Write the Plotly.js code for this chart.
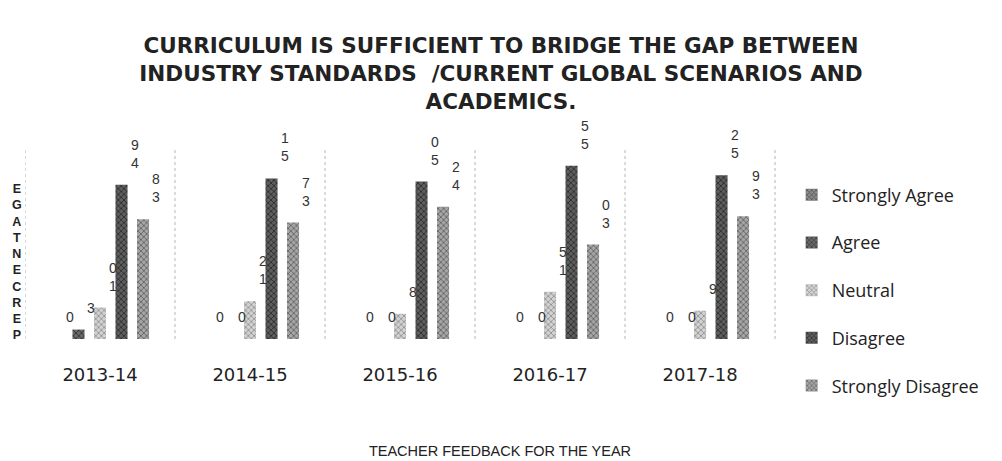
<!DOCTYPE html>
<html>
<head>
<meta charset="utf-8">
<script src="https://cdn.plot.ly/plotly-3.0.1.min.js"></script>
<style>html,body{margin:0;padding:0;background:#fff;}#chart{width:1002px;height:461px;}</style>
</head>
<body>
<div id="chart"></div>
<script>
// ---- data (percent of teachers) ----
const years = ['2013-14', '2014-15', '2015-16', '2016-17', '2017-18'];
const seriesNames = ['Strongly Agree', 'Agree', 'Neutral', 'Disagree', 'Strongly Disagree'];
const stronglyAgree = [0, 0, 0, 0, 0];
const agree = [3, 0, 0, 0, 0];
const neutral = [10, 12, 8, 15, 9];
const disagree = [49, 51, 50, 55, 52];
const stronglyDisagree = [38, 37, 42, 30, 39];
const yAxisLetters = 'PERCENTAGE';

const seriesValues = [stronglyAgree, agree, neutral, disagree, stronglyDisagree];
const fills = [
  {bg: '#8c8c8c', fg: '#4a4a4a'},
  {bg: '#6a6a6a', fg: '#2e2e2e'},
  {bg: '#d2d2d2', fg: '#8a8a8a'},
  {bg: '#5e5e5e', fg: '#262626'},
  {bg: '#a6a6a6', fg: '#5a5a5a'}
];
const xIdx = years.map((_, i) => i);
const bargap = 0.283;

const traces = seriesValues.map((vals, j) => ({
  type: 'bar',
  name: seriesNames[j],
  legendgroup: 'g' + j,
  x: xIdx,
  y: vals,
  marker: {
    color: fills[j].bg,
    line: {width: 0},
    pattern: {shape: 'x', fgcolor: fills[j].fg, bgcolor: fills[j].bg, size: 4, solidity: 0.35}
  },
  hoverinfo: 'x+y+name'
}));

// data labels: digits stacked vertically, read bottom-up
const slot = (1 - bargap) / seriesValues.length;
const annotations = [];
seriesValues.forEach((vals, j) => {
  vals.forEach((v, i) => {
    annotations.push({
      x: i + (j - 2) * slot, y: v, xref: 'x', yref: 'y',
      text: String(v).split('').reverse().join('<br>'),
      showarrow: false, xanchor: 'center', yanchor: 'bottom',
      xshift: 13, yshift: 12,
      font: {family: 'Liberation Sans, Arial, sans-serif', size: 14, color: '#333'}
    });
  });
});
// y-axis title drawn as stacked letters (reads bottom-up)
annotations.push({
  xref: 'paper', yref: 'y', x: -0.0084, y: 24.4,
  text: '<b>' + yAxisLetters.split('').reverse().join('<br>') + '</b>',
  showarrow: false, xanchor: 'center', yanchor: 'middle',
  font: {family: 'Liberation Sans, Arial, sans-serif', size: 12.5, color: '#222'}
});

// dotted vertical separators between year groups
const shapes = [];
for (let k = 0; k <= years.length; k++) {
  shapes.push({
    type: 'line', xref: 'x', yref: 'y',
    x0: k - 0.5, x1: k - 0.5, y0: 0, y1: 60,
    line: {color: '#b5b5b5', width: 1, dash: 'dot'}
  });
}

const layout = {
  width: 1002, height: 461,
  paper_bgcolor: '#ffffff', plot_bgcolor: '#ffffff',
  margin: {l: 25, r: 27, t: 118, b: 122},
  barmode: 'group',
  bargap: bargap,
  bargroupgap: 0.44,
  title: {
    text: '<b>CURRICULUM IS SUFFICIENT TO BRIDGE THE GAP BETWEEN<br>INDUSTRY STANDARDS  /CURRENT GLOBAL SCENARIOS AND<br>ACADEMICS.</b>',
    x: 0.5, xanchor: 'center', y: 0.885, yanchor: 'top', yref: 'container',
    font: {family: 'DejaVu Sans, sans-serif', size: 21.5, color: '#222'}
  },
  xaxis: {
    range: [-0.5, 5.833],
    tickvals: xIdx, ticktext: years,
    showgrid: false, zeroline: false, showline: false, ticks: '',
    ticklabelstandoff: 23,
    tickfont: {family: 'DejaVu Sans, sans-serif', size: 18, color: '#222'},
    title: {
      text: 'TEACHER FEEDBACK FOR THE YEAR',
      standoff: 61,
      font: {family: 'Liberation Sans, sans-serif', size: 14.5, color: '#222'}
    },
    automargin: false
  },
  yaxis: {
    range: [0, 70.2],
    showgrid: false, zeroline: false, showline: false, showticklabels: false, ticks: ''
  },
  legend: {
    x: 0.807, xanchor: 'left', y: 0.735, yanchor: 'top',
    bgcolor: 'rgba(0,0,0,0)',
    tracegroupgap: 21.3,
    itemwidth: 30,
    font: {family: 'Open Sans, Liberation Sans, sans-serif', size: 18, color: '#222'}
  },
  showlegend: true,
  annotations: annotations,
  shapes: shapes
};

Plotly.newPlot('chart', traces, layout, {displayModeBar: false, staticPlot: true});
</script>
</body>
</html>
